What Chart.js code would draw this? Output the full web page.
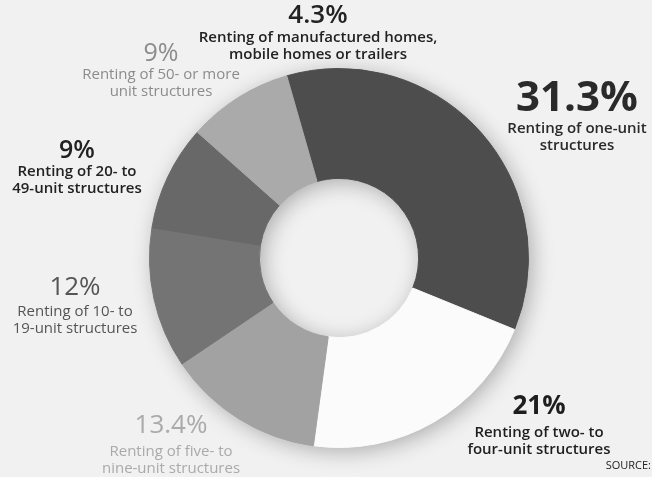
<!DOCTYPE html>
<html>
<head>
<meta charset="utf-8">
<title>Renting by structure type</title>
<script src="https://cdn.jsdelivr.net/npm/chart.js@4.4.1/dist/chart.umd.min.js"></script>
<style>
    html, body {
        margin: 0;
        padding: 0;
        background-color: #f1f1f1;
    }
    #wrap {
        width: 652px;
        height: 477px;
        position: relative;
    }
</style>
</head>
<body>
<div id="wrap">
    <canvas id="myDoughnut" width="652" height="477"></canvas>
</div>
<script>

// data, clockwise from the top slice
var categories = [
    ["Renting of manufactured homes,", "mobile homes or trailers"],
    ["Renting of one-unit", "structures"],
    ["Renting of two- to", "four-unit structures"],
    ["Renting of five- to", "nine-unit structures"],
    ["Renting of 10- to", "19-unit structures"],
    ["Renting of 20- to", "49-unit structures"],
    ["Renting of 50- or more", "unit structures"]
];
var shares = [4.3, 31.3, 21, 13.4, 12, 9, 9];
var sourceNote = "SOURCE:";

var sliceColors = ["#4d4d4d", "#4d4d4d", "#fbfbfb", "#a2a2a2", "#747474", "#686868", "#aaaaaa"];

// where each label sits (centre of the percent text) and how it looks
var labelStyle = [
    {x: 318, y: 16, size: 26, weight: 600, gap: 22, sub: 600, color: "#222"},
    {x: 577, y: 99, size: 42, weight: 700, gap: 30, sub: 600, color: "#2a2a2a"},
    {x: 539, y: 407, size: 26, weight: 700, gap: 26, sub: 600, color: "#1e1e1e"},
    {x: 171, y: 426, size: 26, weight: 400, gap: 26, sub: 400, color: "#aaaaaa"},
    {x: 75, y: 288, size: 26, weight: 400, gap: 24, sub: 400, color: "#555"},
    {x: 77, y: 151, size: 25, weight: 600, gap: 21, sub: 600, color: "#222"},
    {x: 161, y: 54, size: 25, weight: 400, gap: 21, sub: 400, color: "#8c8c8c"}
];

// soft shadow under the whole ring, drawn once so the slices show no seams
var shadowPlugin = {
    id: 'shadow',
    beforeDatasetsDraw: function (chart) {
        var arc = chart.getDatasetMeta(0).data[0];
        if (!arc) return;
        var ctx = chart.ctx;
        ctx.save();
        ctx.shadowColor = 'rgba(0,0,0,0.3)';
        ctx.shadowBlur = 22;
        ctx.shadowOffsetX = 4;
        ctx.shadowOffsetY = 4;
        ctx.fillStyle = '#888';
        ctx.beginPath();
        ctx.arc(arc.x, arc.y, arc.outerRadius - 1, 0, Math.PI * 2);
        ctx.arc(arc.x, arc.y, arc.innerRadius + 1, 0, Math.PI * 2, true);
        ctx.fill();
        ctx.restore();
    }
};

var labelPlugin = {
    id: 'outLabels',
    afterDraw: function (chart) {
        var ctx = chart.ctx;
        ctx.save();
        ctx.textAlign = 'center';
        ctx.textBaseline = 'middle';
        chart.data.datasets[0].data.forEach(function (v, i) {
            var s = labelStyle[i];
            ctx.fillStyle = s.color;
            ctx.font = s.weight + ' ' + s.size + 'px "Open Sans"';
            ctx.fillText(v + '%', s.x, s.y);
            ctx.font = s.sub + ' 15px "Open Sans"';
            chart.data.labels[i].forEach(function (line, j) {
                ctx.fillText(line, s.x, s.y + s.gap + j * 17);
            });
        });
        ctx.textAlign = 'right';
        ctx.fillStyle = '#222';
        ctx.font = '400 11px "Open Sans"';
        ctx.fillText(sourceNote, 651, 466);
        ctx.restore();
    }
};

var ctxDoughnut = document.getElementById('myDoughnut').getContext('2d');

var myDoughnutChart = new Chart(ctxDoughnut, {
    type: 'doughnut',
    data: {
        labels: categories,
        datasets: [{
            data: shares,
            backgroundColor: sliceColors,
            borderColor: sliceColors,
            borderWidth: 1,
            hoverOffset: 0,
            offset: 0
        }]
    },
    options: {
        responsive: false,
        animation: false,
        rotation: -16,
        cutout: '42%',
        layout: {
            padding: {top: 68, bottom: 29, left: 149, right: 123}
        },
        plugins: {
            legend: {display: false},
            tooltip: {enabled: false}
        }
    },
    plugins: [shadowPlugin, labelPlugin]
});

</script>
</body>
</html>
